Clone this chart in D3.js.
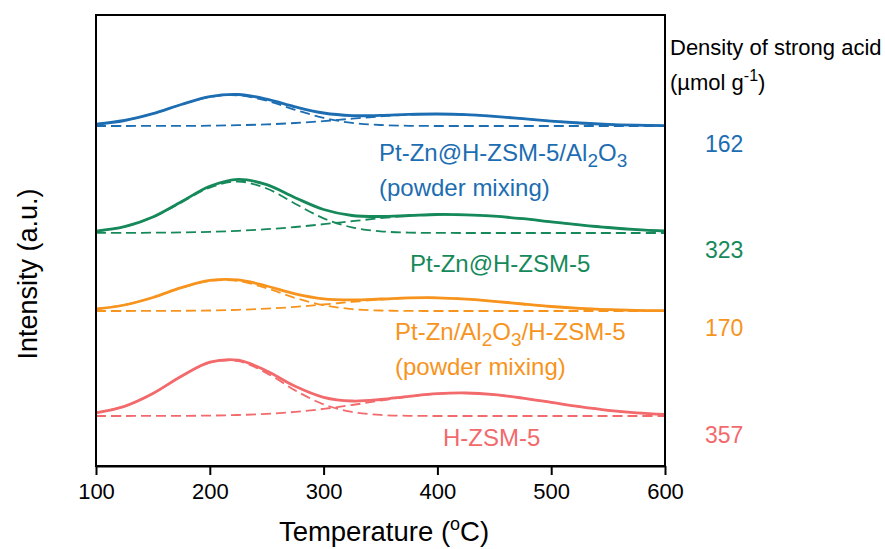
<!DOCTYPE html>
<html>
<head>
<meta charset="utf-8">
<script src="https://cdn.jsdelivr.net/npm/d3@7"></script>
<style>
html,body{margin:0;padding:0;background:#fff;}
svg{display:block;font-family:"Liberation Sans",Arial,Helvetica,sans-serif;}
</style>
</head>
<body>
<svg id="chart" width="885" height="549"></svg>
<script>
// ---- data (intensity in arbitrary units, stacked offsets included) ----
const temperatures = [100,125,150,175,200,225,250,275,300,325,350,375,400,425,450,475,500,525,550,575,600];
const xTicks = [100,200,300,400,500,600];

const blueTotal  = [341.9,345.5,352.3,361.5,369.4,371.5,366.9,359.2,353.0,350.4,350.6,351.6,352.0,351.4,349.6,347.3,344.9,343.0,341.6,340.8,340.3];
const blueLow    = [341.9,345.5,352.3,361.4,369.1,370.7,365.3,356.2,348.1,343.1,341.0,340.2,340.0,340.0,340.0,340.0,340.0,340.0,340.0,340.0,340.0];
const blueHigh   = [340.0,340.0,340.1,340.1,340.3,340.8,341.6,343.0,344.9,347.3,349.6,351.4,352.0,351.4,349.6,347.3,344.9,343.0,341.6,340.8,340.3];

const greenTotal = [234.9,239.3,249.0,264.2,279.7,286.7,281.3,268.3,256.5,250.5,249.5,250.5,251.5,251.2,249.8,247.3,244.2,241.2,238.5,236.4,235.0];
const greenLow   = [234.8,239.1,248.7,263.6,278.4,284.5,277.5,262.3,247.7,238.6,234.7,233.4,233.1,233.0,233.0,233.0,233.0,233.0,233.0,233.0,233.0];
const greenHigh  = [233.1,233.1,233.3,233.6,234.2,235.2,236.8,239.0,241.8,244.8,247.8,250.2,251.4,251.2,249.8,247.3,244.2,241.2,238.5,236.4,235.0];

const orangeTotal= [157.1,161.0,168.5,178.3,185.6,186.1,180.0,172.2,167.2,166.1,167.0,168.1,168.2,166.9,164.7,162.0,159.5,157.6,156.4,155.6,155.3];
const orangeLow  = [157.0,161.0,168.5,178.0,185.1,184.9,177.7,168.1,160.8,156.9,155.5,155.1,155.0,155.0,155.0,155.0,155.0,155.0,155.0,155.0,155.0];
const orangeHigh = [155.0,155.0,155.1,155.2,155.5,156.2,157.3,159.1,161.5,164.1,166.5,168.0,168.2,166.9,164.7,162.0,159.5,157.6,156.4,155.6,155.3];

const redTotal   = [53.2,59.7,72.5,89.7,103.8,105.8,95.1,79.7,68.7,65.0,66.5,69.7,72.3,73.0,71.4,67.9,63.6,59.3,55.7,53.2,51.6];
const redLow     = [53.2,59.7,72.4,89.6,103.3,104.8,92.9,75.6,61.7,54.1,51.1,50.2,50.0,50.0,50.0,50.0,50.0,50.0,50.0,50.0,50.0];
const redHigh    = [50.0,50.0,50.1,50.2,50.4,51.0,52.1,54.1,57.1,61.0,65.4,69.5,72.3,73.0,71.4,67.9,63.6,59.3,55.7,53.2,51.6];

const sampleNames = ["Pt-Zn@H-ZSM-5/Al2O3 (powder mixing)","Pt-Zn@H-ZSM-5","Pt-Zn/Al2O3/H-ZSM-5 (powder mixing)","H-ZSM-5"];
const strongAcidDensity = [162,323,170,357];
const colors = ["#1d6db2","#16895a","#f7941e","#f26a6c"];

// ---- layout ----
const svg = d3.select("#chart");
const L = 96, R = 665, T = 15, B = 466;
const x = d3.scaleLinear().domain([100,600]).range([L,R]);
const y = d3.scaleLinear().domain([0,451]).range([B,T]);

const series = [
  {total: blueTotal,   low: blueLow,   high: blueHigh},
  {total: greenTotal,  low: greenLow,  high: greenHigh},
  {total: orangeTotal, low: orangeLow, high: orangeHigh},
  {total: redTotal,    low: redLow,    high: redHigh}
];

const line = d3.line()
  .x((d,i) => x(temperatures[i]))
  .y(d => y(d))
  .curve(d3.curveCatmullRom.alpha(0.5));

const g = svg.append("g");
series.forEach((s,k) => {
  [s.low, s.high].forEach(arr => {
    g.append("path").attr("d", line(arr))
      .attr("fill","none").attr("stroke",colors[k])
      .attr("stroke-width",1.8).attr("stroke-dasharray","10,5");
  });
  g.append("path").attr("d", line(s.total))
    .attr("fill","none").attr("stroke",colors[k])
    .attr("stroke-width",2.8).attr("stroke-linejoin","round");
});

// frame
svg.append("rect").attr("x",L).attr("y",T).attr("width",R-L).attr("height",B-T)
  .attr("fill","none").attr("stroke","#000").attr("stroke-width",2);

// x axis
const ax = svg.append("g").attr("transform",`translate(0,${B})`)
  .call(d3.axisBottom(x).tickValues(xTicks).tickSize(9).tickSizeOuter(0).tickPadding(8));
ax.select(".domain").attr("stroke","#000").attr("stroke-width",2);
ax.selectAll(".tick line").attr("stroke","#000").attr("stroke-width",2);
ax.selectAll(".tick text").attr("fill","#000").style("font-size","22px")
  .style("font-family","'Liberation Sans',Arial,sans-serif");

// axis titles
const xt = svg.append("text").attr("x",384).attr("y",541).attr("text-anchor","middle")
  .style("font-size","27.5px").attr("fill","#000");
xt.append("tspan").text("Temperature (");
xt.append("tspan").attr("dy",-11).style("font-size","18px").text("o");
xt.append("tspan").attr("dy",11).text("C)");

svg.append("text").attr("transform","translate(37,274) rotate(-90)")
  .attr("text-anchor","middle").style("font-size","27px").attr("fill","#000")
  .text("Intensity (a.u.)");

// sample labels
const FS = "24px";
function sub(t, s){ t.append("tspan").attr("dy",6).style("font-size","19px").text(s); }
function back(t, s){ t.append("tspan").attr("dy",-6).text(s); }

let t1 = svg.append("text").attr("x",379).attr("y",161).style("font-size",FS).attr("fill",colors[0]);
t1.append("tspan").text("Pt-Zn@H-ZSM-5/Al"); sub(t1,"2"); back(t1,"O"); sub(t1,"3");
svg.append("text").attr("x",379).attr("y",196).style("font-size",FS).attr("fill",colors[0]).text("(powder mixing)");

svg.append("text").attr("x",410).attr("y",272).style("font-size",FS).attr("fill",colors[1]).text("Pt-Zn@H-ZSM-5");

let t3 = svg.append("text").attr("x",395).attr("y",340).style("font-size",FS).attr("fill",colors[2]);
t3.append("tspan").text("Pt-Zn/Al"); sub(t3,"2"); back(t3,"O"); sub(t3,"3"); back(t3,"/H-ZSM-5");
svg.append("text").attr("x",395).attr("y",375).style("font-size",FS).attr("fill",colors[2]).text("(powder mixing)");

svg.append("text").attr("x",443).attr("y",446).style("font-size",FS).attr("fill",colors[3]).text("H-ZSM-5");

// density header
svg.append("text").attr("x",670).attr("y",55).style("font-size","22px").attr("fill","#000").text("Density of strong acid");
const u = svg.append("text").attr("x",670).attr("y",90).style("font-size","22px").attr("fill","#000");
u.append("tspan").text("(\u00b5mol g");
u.append("tspan").attr("dy",-9).style("font-size","16px").text("-1");
u.append("tspan").attr("dy",9).text(")");

const valY = [152,258,336,443];
strongAcidDensity.forEach((v,k) => {
  svg.append("text").attr("x",705).attr("y",valY[k]).style("font-size","23px")
    .attr("fill",colors[k]).text(v);
});
</script>
</body>
</html>
